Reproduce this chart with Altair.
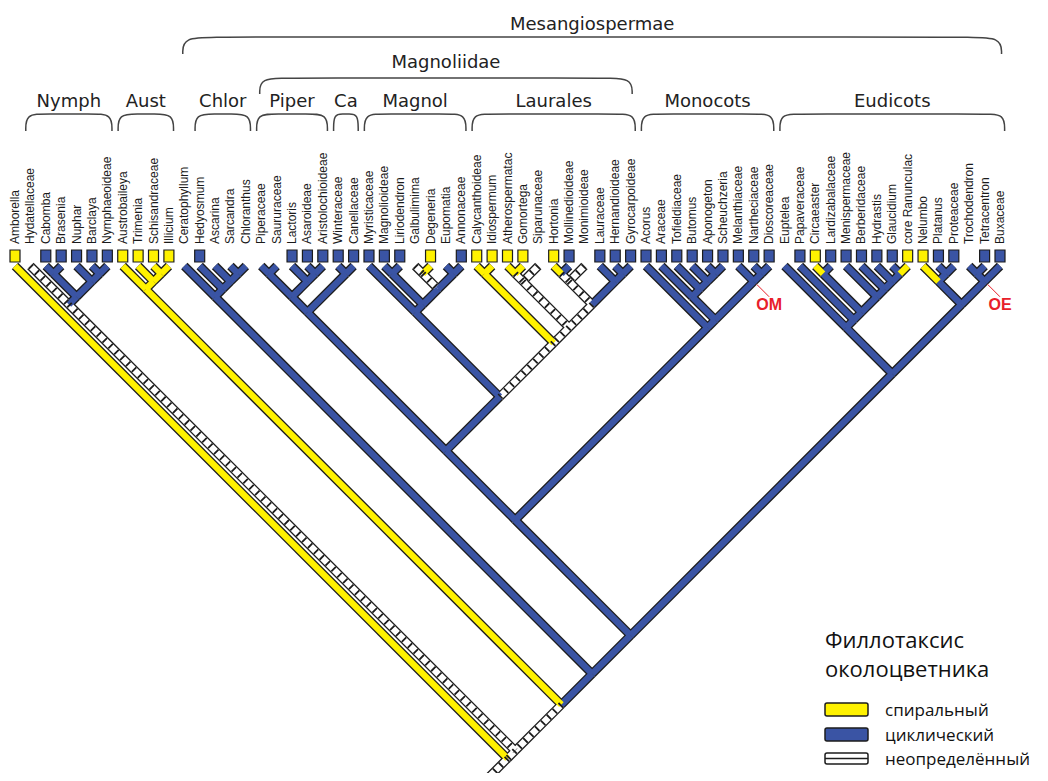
import altair as alt
import pandas as pd

# ---------------- data ----------------
TIPS = ["Amborella", "Hydatellaceae", "Cabomba", "Brasenia", "Nuphar", "Barclaya",
        "Nymphaeoideae", "Austrobaileya", "Trimenia", "Schisandraceae", "Illicium",
        "Ceratophyllum", "Hedyosmum", "Ascarina", "Sarcandra", "Chloranthus",
        "Piperaceae", "Saururaceae", "Lactoris", "Asaroideae", "Aristolochioideae",
        "Winteraceae", "Canellaceae", "Myristicaceae", "Magnolioideae", "Liriodendron",
        "Galbulimima", "Degeneria", "Eupomatia", "Annonaceae", "Calycanthoideae",
        "Idiospermum", "Atherospermatac", "Gomortega", "Siparunaceae", "Hortonia",
        "Mollinedioideae", "Monimioideae", "Lauraceae", "Hernandioideae",
        "Gyrocarpoideae", "Acorus", "Araceae", "Tofieldiaceae", "Butomus",
        "Aponogeton", "Scheuchzeria", "Melanthiaceae", "Nartheciaceae",
        "Dioscoreaceae", "Euptelea", "Papaveraceae", "Circaeaster", "Lardizabalaceae",
        "Menispermaceae", "Berberidaceae", "Hydrastis", "Glaucidium", "core Ranunculac",
        "Nelumbo", "Platanus", "Proteaceae", "Trochodendron", "Tetracentron", "Buxaceae"]

# observed perianth state at tips: S = spiral, W = whorled, "" = no box
TIP_BOX = ["S", "", "W", "W", "W", "W", "W", "S", "S", "S", "S", "", "W", "", "", "",
           "", "", "W", "W", "W", "W", "W", "W", "W", "W", "", "S", "", "W", "S", "S",
           "S", "S", "", "S", "W", "", "W", "W", "W", "W", "W", "W", "W", "W", "W", "W",
           "W", "W", "", "W", "S", "W", "W", "W", "W", "W", "S", "S", "W", "W", "", "W", "W"]

# reconstructed state on terminal branches: S / W / U (undetermined)
TIP_BRANCH = ["S", "U", "W", "W", "W", "W", "W", "S", "S", "S", "S", "W", "W", "W", "W", "W",
              "W", "W", "W", "W", "W", "W", "W", "W", "W", "W", "U", "S", "W", "W", "S", "S",
              "S", "S", "U", "S", "W", "U", "W", "W", "W", "W", "W", "W", "W", "W", "W", "W",
              "W", "W", "W", "W", "S", "W", "W", "W", "W", "W", "S", "S", "W", "W", "W", "W", "W"]

# topology with reconstructed state of each internal stem (":S", ":W", ":U")
NYMPHAEALES = "(Hydatellaceae,((Cabomba,Brasenia):W,(Nuphar,(Barclaya,Nymphaeoideae):W):W):W):U"
AUSTROBAILEYALES = "(Austrobaileya,(Trimenia,(Schisandraceae,Illicium):S):S):S"
CERAT_CHLOR = "(Ceratophyllum,(Hedyosmum,(Ascarina,(Sarcandra,Chloranthus):W):W):W):W"
PIPERALES = "((Piperaceae,Saururaceae):W,(Lactoris,(Asaroideae,Aristolochioideae):W):W):W"
CANELLALES = "(Winteraceae,Canellaceae):W"
MAGNOLIALES = ("(Myristicaceae,((Magnolioideae,Liriodendron):W,((Galbulimima,Degeneria):U,"
               "(Eupomatia,Annonaceae):W):W):W):W")
LAURALES = ("((Calycanthoideae,Idiospermum):S,(((Atherospermatac,Gomortega):U,Siparunaceae):U,"
            "(((Hortonia,Mollinedioideae):U,Monimioideae):U,(Lauraceae,(Hernandioideae,"
            "Gyrocarpoideae):W):W):U):U):U")
MONOCOTS = ("(Acorus,((Araceae,(Tofieldiaceae,(Butomus,(Aponogeton,Scheuchzeria):W):W):W):W,"
            "(Melanthiaceae,(Nartheciaceae,Dioscoreaceae):W):W):W):W")
EUDICOTS = ("((Euptelea,(Papaveraceae,((Circaeaster,Lardizabalaceae):W,(Menispermaceae,"
            "(Berberidaceae,(Hydrastis,(Glaucidium,core Ranunculac):W):W):W):W):W):W):W,"
            "((Nelumbo,(Platanus,Proteaceae):W):W,((Trochodendron,Tetracentron):W,Buxaceae):W):W):W")
MAGNOLIIDAE = "((" + PIPERALES + "," + CANELLALES + "):W,(" + MAGNOLIALES + "," + LAURALES + "):W):W"
MESANGIOSPERMAE = "(" + CERAT_CHLOR + ",((" + MAGNOLIIDAE + "," + MONOCOTS + "):W," + EUDICOTS + "):W):W"
TREE = "(Amborella,(" + NYMPHAEALES + ",(" + AUSTROBAILEYALES + "," + MESANGIOSPERMAE + "):U):U)"
ROOT_STEM = "U"

CLADE_BRACKETS = [("Nymph", "Hydatellaceae", "Nymphaeoideae"),
                  ("Aust", "Austrobaileya", "Illicium"),
                  ("Chlor", "Hedyosmum", "Chloranthus"),
                  ("Piper", "Piperaceae", "Aristolochioideae"),
                  ("Ca", "Winteraceae", "Canellaceae"),
                  ("Magnol", "Myristicaceae", "Annonaceae"),
                  ("Laurales", "Calycanthoideae", "Gyrocarpoideae"),
                  ("Monocots", "Acorus", "Dioscoreaceae"),
                  ("Eudicots", "Euptelea", "Buxaceae")]
MAGNOLIIDAE_BRACKET = ("Magnoliidae", "Piperaceae", "Gyrocarpoideae")
MESANGIO_BRACKET = ("Mesangiospermae", "Ceratophyllum", "Buxaceae")
NODE_MARKS = [("OM", "Melanthiaceae", "Dioscoreaceae"), ("OE", "Trochodendron", "Buxaceae")]
LEGEND_TITLE = ["Филлотаксис", "околоцветника"]
LEGEND_STATES = ["S", "W", "U"]
LEGEND_LABELS = ["спиральный", "циклический", "неопределённый"]

# ---------------- style / layout ----------------
YELLOW, BLUE, WHITE, INK = "#FFF200", "#3A54A4", "#FFFFFF", "#1c1c1c"
W, H = 1032, 765
DX = 15.390625            # pixels per tip unit (45-degree cladogram)
x_lo = 1 - 7 / DX
d_top = -258 / DX
xs = alt.Scale(domain=[x_lo, x_lo + W / DX], nice=False, zero=False)
ys = alt.Scale(domain=[d_top, d_top + H / DX], nice=False, zero=False, reverse=True)
state_scale = alt.Scale(domain=["S", "W", "U"], range=[YELLOW, BLUE, WHITE])


def ux(px):
    return 1 + (px - 15) / DX


def ud(py):
    return (py - 266) / DX


# ---------------- tree ----------------
def parse(s):
    pos = 0

    def node():
        nonlocal pos
        if s[pos] == "(":
            pos += 1
            kids = [node()]
            while s[pos] == ",":
                pos += 1
                kids.append(node())
            pos += 1
            n = {"kids": kids}
        else:
            j = pos
            while s[pos] not in ",():":
                pos += 1
            n = {"name": s[j:pos]}
        if pos < len(s) and s[pos] == ":":
            n["state"] = s[pos + 1]
            pos += 2
        return n
    return node()


idx = {n: i + 1 for i, n in enumerate(TIPS)}
root = parse(TREE)
all_nodes = []


def layout(n):
    if "name" in n:
        i = idx[n["name"]]
        n["lo"] = n["hi"] = i
        n["state"] = TIP_BRANCH[i - 1]
    else:
        for k in n["kids"]:
            layout(k)
        n["lo"] = min(k["lo"] for k in n["kids"])
        n["hi"] = max(k["hi"] for k in n["kids"])
    n["x"] = (n["lo"] + n["hi"]) / 2
    n["d"] = (n["hi"] - n["lo"]) / 2
    all_nodes.append(n)


layout(root)
segs = []


def walk(n, parent=None):
    if parent is not None:
        segs.append(dict(x=n["x"], d=n["d"], x2=parent["x"], d2=parent["d"], state=n["state"]))
    for k in n.get("kids", []):
        walk(k, n)


walk(root)
segs.append(dict(x=root["x"], d=root["d"], x2=root["x"] - 2, d2=root["d"] + 2, state=ROOT_STEM))
seg = pd.DataFrame(segs)
seg["rank"] = seg["state"].map({"U": 0, "W": 1, "S": 2})
seg = seg.sort_values("rank", kind="stable")


def mrca(a, b):
    for n in all_nodes:
        if n["lo"] == idx[a] and n["hi"] == idx[b]:
            return n


def X(f):
    return alt.X(f + ":Q", scale=xs, axis=None)


def Y(f):
    return alt.Y(f + ":Q", scale=ys, axis=None)


COLOR = alt.Color("state:N", scale=state_scale, legend=None)

outline = alt.Chart(seg).mark_rule(color=INK, strokeWidth=9, strokeCap="butt").encode(
    x=X("x"), y=Y("d"), x2="x2:Q", y2="d2:Q")
fill = alt.Chart(seg).mark_rule(strokeWidth=6.4, strokeCap="butt").encode(
    x=X("x"), y=Y("d"), x2="x2:Q", y2="d2:Q", color=COLOR, order="rank:Q")
hatch = alt.Chart(seg[seg.state == "U"]).mark_rule(
    color=INK, strokeWidth=6.4, strokeCap="butt", strokeDash=[1.8, 6.5]).encode(
    x=X("x"), y=Y("d"), x2="x2:Q", y2="d2:Q")

# tip boxes and labels
tips = pd.DataFrame({"name": TIPS, "i": range(1, len(TIPS) + 1), "state": TIP_BOX})
tips["y"] = ud(244)
boxes_df = tips[tips.state != ""].copy()
boxes_df["x0"] = boxes_df["i"] - 5 / DX
boxes_df["x1"] = boxes_df["i"] + 5 / DX
boxes_df["y0"] = ud(250)
boxes_df["y1"] = ud(262)
boxes = alt.Chart(boxes_df).mark_rect(stroke=INK, strokeWidth=1.2).encode(
    x=X("x0"), x2="x1:Q", y=Y("y0"), y2="y1:Q", color=COLOR)
labels = alt.Chart(tips).mark_text(angle=270, align="left", baseline="middle",
                                   font="Liberation Sans", fontSize=12, color="#1a1a1a").encode(
    x=X("i"), y=Y("y"), text="name:N")

# brackets
brk_rows, name_rows = [], []


def add_bracket(label, a_name, b_name, pad, r, yt, yb, ytext):
    a, b = idx[a_name] - pad, idx[b_name] + pad
    r = min(r, (b - a) * 0.4)
    pts = [(a, yb), (a, yt), (a + r, yt), (b - r, yt), (b, yt), (b, yb)]
    for k, (px_, py_) in enumerate(pts):
        brk_rows.append(dict(g=label, k=k, x=px_, y=py_))
    name_rows.append(dict(label=label, x=(a + b) / 2, y=ytext))


for lab, a, b in CLADE_BRACKETS:
    add_bracket(lab, a, b, 0.3, 1.3, ud(114), ud(131), ud(107))
add_bracket(*MAGNOLIIDAE_BRACKET, 0.1, 2.0, ud(78), ud(94), ud(68))
add_bracket(*MESANGIO_BRACKET, 0.1, 2.4, ud(37), ud(54), ud(30))

brk = alt.Chart(pd.DataFrame(brk_rows)).mark_line(
    interpolate="basis", color="#444444", strokeWidth=1.5).encode(
    x=X("x"), y=Y("y"), detail="g:N", order="k:Q")
names = alt.Chart(pd.DataFrame(name_rows)).mark_text(
    font="DejaVu Sans", fontSize=18, color="#222222", baseline="alphabetic", align="center").encode(
    x=X("x"), y=Y("y"), text="label:N")

# OM / OE markers
mk_lines, mk_text = [], []
for lab, a, b in NODE_MARKS:
    n = mrca(a, b)
    mk_lines.append(dict(x=n["x"] + 0.2, d=n["d"] + 0.2, x2=n["x"] + 1.0, d2=n["d"] + 1.0))
    mk_text.append(dict(label=lab, x=n["x"] + 1.0, d=n["d"] + 1.55))
mk_l = alt.Chart(pd.DataFrame(mk_lines)).mark_rule(color="#E8202A", strokeWidth=1).encode(
    x=X("x"), y=Y("d"), x2="x2:Q", y2="d2:Q")
mk_t = alt.Chart(pd.DataFrame(mk_text)).mark_text(
    font="Liberation Sans", fontWeight="bold", fontSize=16, color="#E8202A",
    baseline="middle", align="center").encode(x=X("x"), y=Y("d"), text="label:N")

# legend
lt = pd.DataFrame({"t": LEGEND_TITLE, "x": [ux(825)] * 2, "y": [ud(648), ud(677)]})
leg_title = alt.Chart(lt).mark_text(font="Open Sans", fontSize=22, color="#111111",
                                    align="left", baseline="alphabetic").encode(
    x=X("x"), y=Y("y"), text="t:N")
sw_top = [703, 728, 753]
sw_bot = [716, 741, 764]
ls = pd.DataFrame({"state": LEGEND_STATES, "label": LEGEND_LABELS,
                   "x0": [ux(825)] * 3, "x1": [ux(868)] * 3,
                   "y0": [ud(v) for v in sw_top], "y1": [ud(v) for v in sw_bot],
                   "ym": [ud((a + b) / 2) for a, b in zip(sw_top, sw_bot)],
                   "tx": [ux(885)] * 3, "ty": [ud(v) for v in [716, 741, 765]]})
leg_sw = alt.Chart(ls).mark_rect(stroke=INK, strokeWidth=1.5, cornerRadius=2).encode(
    x=X("x0"), x2="x1:Q", y=Y("y0"), y2="y1:Q", color=COLOR)
leg_mid = alt.Chart(ls[ls.state == "U"]).mark_rule(color=INK, strokeWidth=1.5).encode(
    x=X("x0"), x2="x1:Q", y=Y("ym"))
leg_txt = alt.Chart(ls).mark_text(font="Open Sans", fontSize=17, color="#111111",
                                  align="left", baseline="alphabetic").encode(
    x=X("tx"), y=Y("ty"), text="label:N")

chart = alt.layer(outline, fill, hatch, boxes, labels, brk, names, mk_l, mk_t,
                  leg_title, leg_sw, leg_mid, leg_txt).properties(
    width=W, height=H, padding=0, autosize=alt.AutoSizeParams(type="none"),
    background="white").configure_view(stroke=None)

chart.save("out.html", embed_options={"renderer": "svg", "actions": False})
